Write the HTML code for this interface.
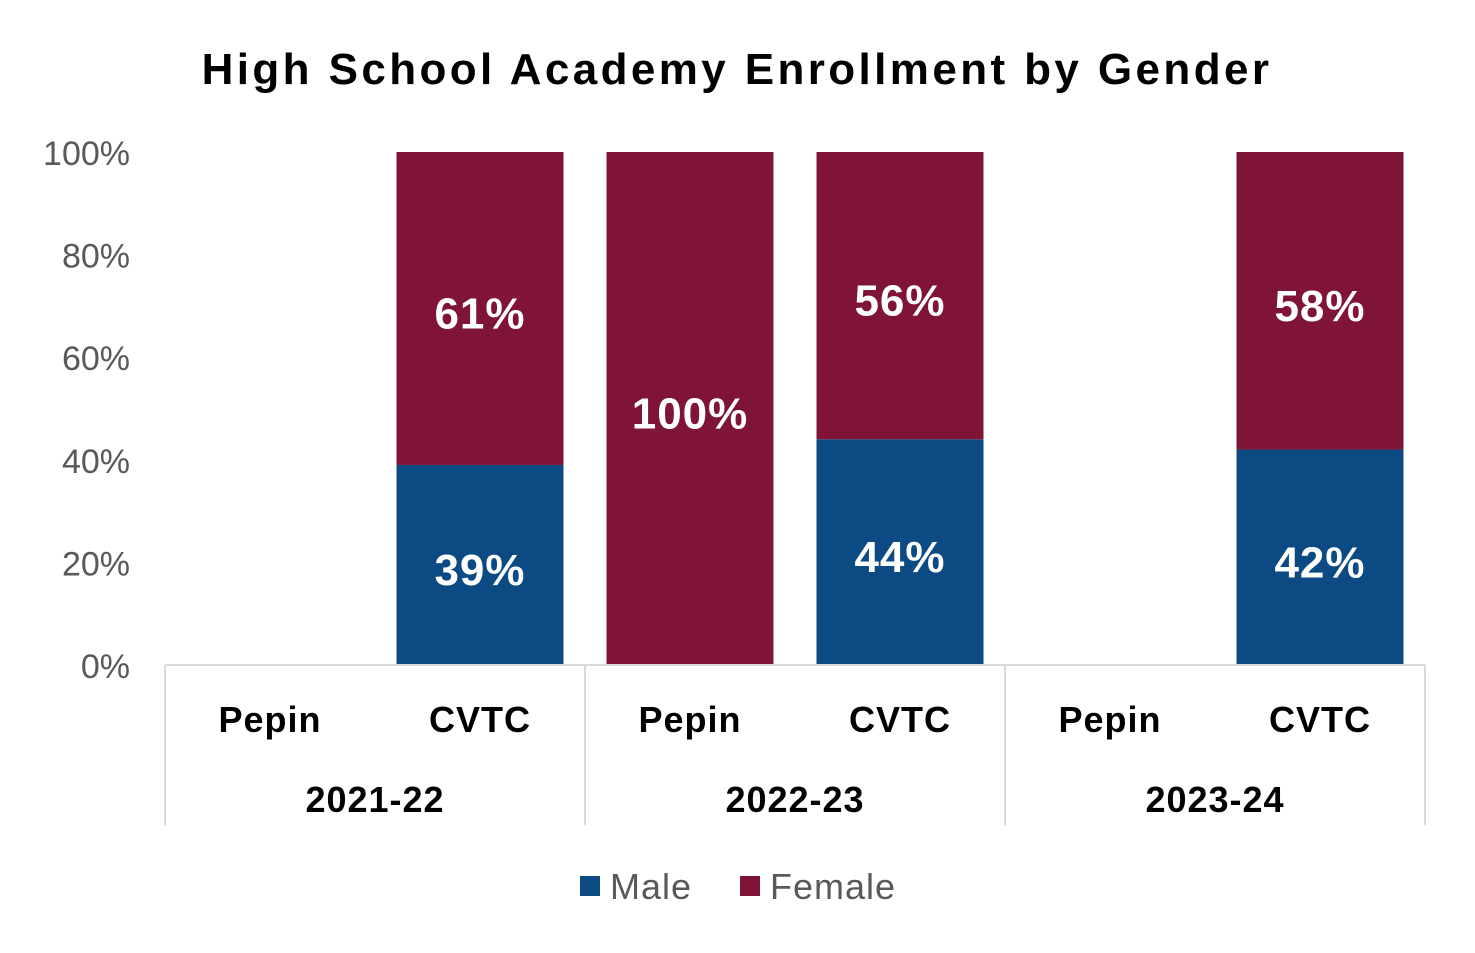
<!DOCTYPE html>
<html><head><meta charset="utf-8"><style>
body{margin:0;background:#fff;}
svg{display:block;font-family:"Liberation Sans",sans-serif;}
</style></head><body>
<svg id="chart" width="1475" height="953">
<text x="737" y="84" text-anchor="middle" font-size="44" font-weight="bold" fill="#000" letter-spacing="3.4">High School Academy Enrollment by Gender</text>
<g id="yaxis"></g><g id="bars"></g><g id="xaxis"></g>
<g>
<rect x="580" y="876" width="20" height="20" fill="#0B4A83"/>
<text x="610" y="899" font-size="36" fill="#595959" letter-spacing="1">Male</text>
<rect x="740" y="876" width="20" height="20" fill="#7F1437"/>
<text x="770" y="899" font-size="36" fill="#595959" letter-spacing="1">Female</text>
</g>
</svg>
<script>
const years=["2021-22","2022-23","2023-24"];
const schools=["Pepin","CVTC"];
const male=[null,39,0,44,null,42];
const female=[null,61,100,56,null,58];
const yTicks=[0,20,40,60,80,100];
const ns="http://www.w3.org/2000/svg";
const X0=165,X1=1425,Y0=665,Y1=152;
const catW=(X1-X0)/(years.length*schools.length);
const y=v=>Y0-(Y0-Y1)*v/100;
const cx=i=>X0+catW*(i+0.5);
function mk(t,a,p){const e=document.createElementNS(ns,t);for(const k in a)e.setAttribute(k,a[k]);p.appendChild(e);return e;}
const ya=document.getElementById('yaxis'),bg=document.getElementById('bars'),xa=document.getElementById('xaxis');
yTicks.forEach(v=>{const t=mk('text',{x:130,y:y(v)+13,'text-anchor':'end','font-size':34,fill:'#595959'},ya);t.textContent=v+'%';

});
const bw=167;
male.forEach((m,i)=>{
 if(m===null)return;const f=female[i];
 if(m>0){const r=mk('rect',{x:cx(i)-bw/2,y:y(m),width:bw,height:y(0)-y(m),fill:'#0B4A83'},bg);
 
 
 const t=mk('text',{x:cx(i),y:(y(0)+y(m))/2+20,'text-anchor':'middle','font-size':44,'font-weight':'bold',fill:'#fff','letter-spacing':1},bg);t.textContent=m+'%';
 
 }
 if(f>0){const r=mk('rect',{x:cx(i)-bw/2,y:y(m+f),width:bw,height:y(m)-y(m+f),fill:'#7F1437'},bg);
 
 
 const t=mk('text',{x:cx(i),y:(y(m)+y(m+f))/2+20,'text-anchor':'middle','font-size':44,'font-weight':'bold',fill:'#fff','letter-spacing':1},bg);t.textContent=f+'%';
 
 }
});
const ax=mk('line',{x1:X0,x2:X1,y1:Y0,y2:Y0,stroke:'#d9d9d9','stroke-width':2},xa);


const gw=catW*schools.length;
for(let g=0;g<=years.length;g++){const l=mk('line',{x1:X0+g*gw,x2:X0+g*gw,y1:Y0,y2:825,stroke:'#d9d9d9','stroke-width':2},xa);
 
 }
years.forEach((yr,g)=>{
 schools.forEach((s,j)=>{const t=mk('text',{x:cx(g*schools.length+j),y:732,'text-anchor':'middle','font-size':36,'font-weight':'bold',fill:'#000','letter-spacing':1},xa);t.textContent=s;
 
 });
 const t=mk('text',{x:X0+gw*(g+0.5),y:812,'text-anchor':'middle','font-size':36,'font-weight':'bold',fill:'#000','letter-spacing':1},xa);t.textContent=yr;
 
 
});
</script>
</body></html>
